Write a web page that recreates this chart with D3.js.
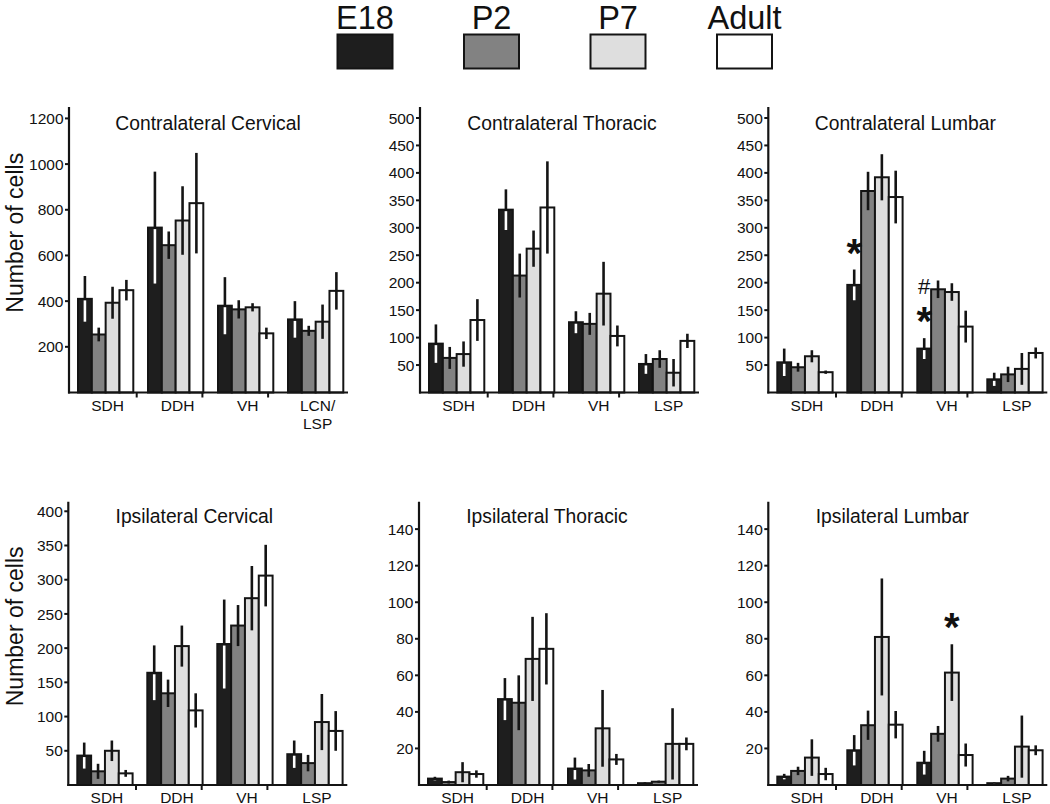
<!DOCTYPE html>
<html>
<head>
<meta charset="utf-8">
<script src="https://cdn.jsdelivr.net/npm/d3@7/dist/d3.min.js"></script>
<style>
  html, body { margin: 0; padding: 0; background: #fff; }
  svg { display: block; font-family: "Liberation Sans", Arial, sans-serif; }
</style>
</head>
<body>
<svg id="chart" width="1050" height="804"></svg>
<script>
// ---------------- DATA ----------------
const ages = ["E18", "P2", "P7", "Adult"];
const catsCervical = ["SDH", "DDH", "VH", "LCN/LSP"];
const catsDefault = ["SDH", "DDH", "VH", "LSP"];

// mean values [category][age]
const contraCervicalMean = [[410, 254, 393, 448], [722, 645, 753, 829], [380, 364, 373, 259], [320, 270, 310, 445]];
const contraCervicalErr  = [[100, 30, 70, 45], [245, 60, 150, 220], [125, 40, 18, 25], [80, 22, 75, 82]];

const contraThoracicMean = [[89, 63, 70, 132], [333, 213, 262, 337], [128, 125, 180, 103], [52, 61, 36, 94]];
const contraThoracicErr  = [[35, 20, 23, 38], [37, 40, 33, 84], [20, 20, 58, 19], [18, 16, 25, 13]];

const contraLumbarMean = [[55, 46, 66, 37], [196, 367, 392, 356], [80, 188, 183, 120], [24, 33, 43, 72]];
const contraLumbarErr  = [[25, 8, 11, 3], [28, 35, 42, 48], [19, 16, 16, 29], [12, 14, 29, 10]];

const ipsiCervicalMean = [[43, 20, 50, 17], [164, 134, 203, 109], [206, 233, 273, 306], [45, 32, 92, 79]];
const ipsiCervicalErr  = [[19, 11, 15, 5], [40, 20, 30, 25], [65, 30, 47, 45], [20, 12, 41, 29]];

const ipsiThoracicMean = [[3.5, 1.6, 7, 6], [47, 45, 69, 74.5], [9, 8, 31, 14], [1, 1.8, 22.5, 22.5]];
const ipsiThoracicErr  = [[1, 0.8, 5.5, 2], [11.5, 15, 23, 19.5], [6, 3.5, 21, 3], [0.5, 0.6, 19.5, 3.5]];

const ipsiLumbarMean = [[4.6, 7.7, 15, 6], [19, 32.7, 81, 33], [12.2, 28, 61.5, 16.4], [1, 3.5, 21, 19]];
const ipsiLumbarErr  = [[1.5, 2.3, 10, 3.4], [8.3, 8, 32, 7.5], [6.5, 4.3, 15.5, 6.3], [0.4, 1.5, 17, 2.7]];

const ticksCervical = [200, 400, 600, 800, 1000, 1200];
const ticksContra = [50, 100, 150, 200, 250, 300, 350, 400, 450, 500];
const ticksIpsiCervical = [50, 100, 150, 200, 250, 300, 350, 400];
const ticksIpsi = [20, 40, 60, 80, 100, 120, 140];

// significance marks: panel index, category, age, symbols (top to bottom)
const marks = [
  { panel: 2, cat: "DDH", age: "E18", symbols: ["*"] },
  { panel: 2, cat: "VH", age: "E18", symbols: ["#", "*"] },
  { panel: 5, cat: "VH", age: "P7", symbols: ["*"] }
];

// ---------------- STYLE / LAYOUT ----------------
const fills = { "E18": "#1e1e1e", "P2": "#828282", "P7": "#dedede", "Adult": "#ffffff" };
const svg = d3.select("#chart");

const panels = [
  { title: "Contralateral Cervical", cats: catsCervical, mean: contraCervicalMean, err: contraCervicalErr, ticks: ticksCervical, max: 1250, ax: 69, base: 392.5, top: 107, titleDx: 139, titleY: 130, labelY: 411, ylabel: true },
  { title: "Contralateral Thoracic", cats: catsDefault, mean: contraThoracicMean, err: contraThoracicErr, ticks: ticksContra, max: 520, ax: 420, base: 392.5, top: 107, titleDx: 142, titleY: 130, labelY: 411 },
  { title: "Contralateral Lumbar", cats: catsDefault, mean: contraLumbarMean, err: contraLumbarErr, ticks: ticksContra, max: 520, ax: 768.3, base: 392.5, top: 107, titleDx: 137, titleY: 130, labelY: 411 },
  { title: "Ipsilateral Cervical", cats: catsDefault, mean: ipsiCervicalMean, err: ipsiCervicalErr, ticks: ticksIpsiCervical, max: 414, ax: 68.3, base: 785, top: 501.7, titleDx: 126, titleY: 522.5, labelY: 802.5, ylabel: true },
  { title: "Ipsilateral Thoracic", cats: catsDefault, mean: ipsiThoracicMean, err: ipsiThoracicErr, ticks: ticksIpsi, max: 155, ax: 419, base: 785, top: 501.7, titleDx: 128, titleY: 522.5, labelY: 802.5 },
  { title: "Ipsilateral Lumbar", cats: catsDefault, mean: ipsiLumbarMean, err: ipsiLumbarErr, ticks: ticksIpsi, max: 155, ax: 768.3, base: 785, top: 501.7, titleDx: 124, titleY: 522.5, labelY: 802.5 }
];

panels.forEach((p, pi) => {
  const g = svg.append("g");
  const y = d3.scaleLinear().domain([0, p.max]).range([p.base, p.top]);
  const x = d3.scaleBand().domain(p.cats).range([p.ax + 9, p.ax + 274.3]).paddingInner(0.21).paddingOuter(0);
  const xs = d3.scaleBand().domain(ages).range([0, x.bandwidth()]).padding(0);
  const tickPos = d3.scaleLinear().domain([0, 4]).range([p.ax + 2, p.ax + 2 + 4 * 65.7]);

  // bars
  p.cats.forEach((c, ci) => {
    ages.forEach((a, ai) => {
      const m = p.mean[ci][ai], e = p.err[ci][ai];
      const bx = x(c) + xs(a);
      g.append("rect")
        .attr("x", bx).attr("y", y(m))
        .attr("width", xs.bandwidth()).attr("height", y(0) - y(m))
        .attr("fill", fills[a]).attr("stroke", "#141414").attr("stroke-width", 2);
      const cx = bx + xs.bandwidth() / 2;
      g.append("line")
        .attr("x1", cx).attr("x2", cx)
        .attr("y1", y(Math.max(0, m - e))).attr("y2", y(m + e))
        .attr("stroke", "#141414").attr("stroke-width", 2.6);
      if (a === "E18") {
        g.append("line")
          .attr("x1", cx).attr("x2", cx)
          .attr("y1", y(Math.max(0, m - e))).attr("y2", y(m) + 1.5)
          .attr("stroke", "#ffffff").attr("stroke-width", 2.6);
      }
    });
  });

  // y axis
  g.append("line").attr("x1", p.ax).attr("x2", p.ax).attr("y1", p.top).attr("y2", p.base + 1)
    .attr("stroke", "#141414").attr("stroke-width", 2.2);
  const yt = g.selectAll(".yt").data(p.ticks).enter().append("g")
    .attr("transform", d => `translate(${p.ax},${y(d)})`);
  yt.append("line").attr("x1", -4).attr("x2", 0).attr("stroke", "#141414").attr("stroke-width", 2);
  yt.append("text").attr("x", -5.5).attr("dy", "0.36em").attr("text-anchor", "end")
    .attr("font-size", 15.5).attr("fill", "#111").text(d => d);

  // x axis
  g.append("line").attr("x1", p.ax - 1).attr("x2", p.ax + 279).attr("y1", p.base).attr("y2", p.base)
    .attr("stroke", "#141414").attr("stroke-width", 2.2);
  [1, 2, 3].forEach(t => {
    g.append("line").attr("x1", tickPos(t)).attr("x2", tickPos(t))
      .attr("y1", p.base).attr("y2", p.base + 5).attr("stroke", "#141414").attr("stroke-width", 2);
  });
  p.cats.forEach(c => {
    const lines = c.includes("/") ? [c.split("/")[0] + "/", c.split("/")[1]] : [c];
    const t = g.append("text").attr("text-anchor", "middle").attr("font-size", 15.5).attr("fill", "#111")
      .attr("x", x(c) + x.bandwidth() / 2 + 2).attr("y", p.labelY);
    lines.forEach((l, li) => {
      t.append("tspan").attr("x", x(c) + x.bandwidth() / 2 + 2).attr("dy", li === 0 ? 0 : 18).text(l);
    });
  });

  // title
  g.append("text").attr("x", p.ax + p.titleDx).attr("y", p.titleY).attr("text-anchor", "middle")
    .attr("font-size", 19.3).attr("fill", "#111").text(p.title);

  if (p.ylabel) {
    const cy = (p.base + p.top) / 2 - 17;
    g.append("text").attr("transform", `translate(22.5,${cy}) rotate(-90)`)
      .attr("text-anchor", "middle").attr("font-size", 23).attr("fill", "#111").text("Number of cells");
  }

  // significance marks (one text element per mark; symbols stacked top to bottom)
  marks.filter(mk => mk.panel === pi).forEach(mk => {
    const ci = p.cats.indexOf(mk.cat), ai = ages.indexOf(mk.age);
    const m = p.mean[ci][ai], e = p.err[ci][ai];
    const cx = x(mk.cat) + xs(mk.age) + xs.bandwidth() / 2;
    const starBase = y(m + e) - 3;
    const n = mk.symbols.length;
    const gap = 41.5;
    const t = g.append("text").attr("text-anchor", "middle").attr("fill", "#111")
      .attr("x", cx).attr("y", starBase - (n - 1) * gap);
    mk.symbols.forEach((s, si) => {
      const ts = t.append("tspan").attr("x", cx).text(s);
      if (si > 0) ts.attr("dy", gap);
      if (s === "*") ts.attr("font-size", 40).attr("font-weight", "bold");
      else ts.attr("font-size", 22);
    });
  });
});

// legend
const lx = d3.scalePoint().domain(ages).range([365, 744.5]);
const lg = svg.append("g").selectAll("g").data(ages).enter().append("g")
  .attr("transform", d => `translate(${lx(d)},0)`);
lg.append("text").attr("text-anchor", "middle").attr("y", 28.5).attr("font-size", 32.5).attr("fill", "#111").text(d => d);
lg.append("rect").attr("x", -27.5).attr("y", 34.5).attr("width", 55).attr("height", 34)
  .attr("fill", d => fills[d]).attr("stroke", "#141414").attr("stroke-width", 2);
</script>
</body>
</html>
